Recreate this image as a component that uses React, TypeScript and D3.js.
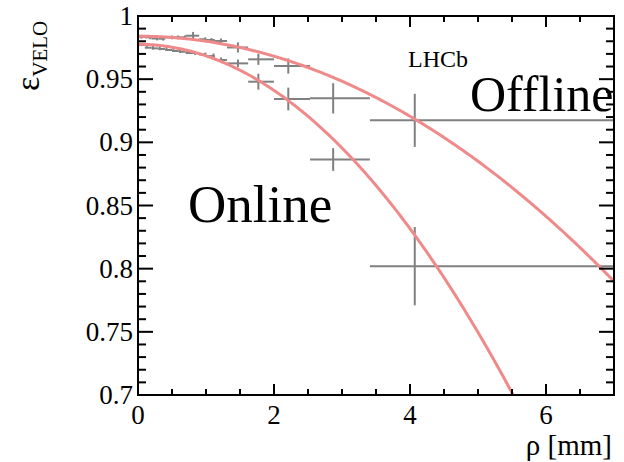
import React from "react";
import * as d3 from "d3";

// VELO efficiency versus radial distance rho, offline and online reconstruction
const rhoOffline = [0.05, 0.18, 0.28, 0.37, 0.5, 0.59, 0.69, 0.81, 0.99, 1.08, 1.22, 1.47, 1.77, 2.21, 2.87, 4.07];
const effOffline = [0.9836, 0.9831, 0.9822, 0.982, 0.9831, 0.9831, 0.9831, 0.9844, 0.9816, 0.981, 0.9802, 0.9751, 0.9657, 0.9604, 0.9348, 0.9174];
const errOffline = [0.0015, 0.0015, 0.0015, 0.0015, 0.0015, 0.0015, 0.0015, 0.003, 0.0015, 0.0015, 0.002, 0.004, 0.0044, 0.006, 0.012, 0.021];

const rhoOnline = [0.13, 0.22, 0.32, 0.42, 0.52, 0.62, 0.72, 0.84, 0.99, 1.11, 1.22, 1.47, 1.77, 2.21, 2.87, 4.07];
const effOnline = [0.977, 0.9749, 0.9744, 0.9739, 0.9731, 0.9723, 0.9717, 0.9707, 0.9695, 0.9683, 0.9652, 0.9625, 0.948, 0.9343, 0.8864, 0.802];
const errOnline = [0.0015, 0.0015, 0.0015, 0.0015, 0.0015, 0.0015, 0.0015, 0.0015, 0.0015, 0.002, 0.002, 0.003, 0.0063, 0.009, 0.009, 0.031];

// bin edges shared by both samples
const binLo = [0.0, 0.1, 0.2, 0.3, 0.4, 0.5, 0.6, 0.7, 0.9, 1.0, 1.13, 1.31, 1.62, 2.0, 2.53, 3.41];
const binHi = [0.1, 0.2, 0.3, 0.4, 0.5, 0.6, 0.7, 0.9, 1.0, 1.13, 1.31, 1.62, 2.0, 2.53, 3.41, 7.5];

// quadratic fits: eff = p0 - p1 * rho^2
const fitOffline = [0.984, 0.00396];
const fitOnline = [0.9776, 0.00912];

const xMajorTicks = [0, 2, 4, 6];
const xTickLabels = ["0", "2", "4", "6"];
const yMajorTicks = [0.7, 0.75, 0.8, 0.85, 0.9, 0.95, 1.0];
const yTickLabels = ["0.7", "0.75", "0.8", "0.85", "0.9", "0.95", "1"];

const W = 624;
const H = 462;
const L = 138, R = 614, T = 16, B = 395;

const x = d3.scaleLinear().domain([0, 7]).range([L, R]);
const y = d3.scaleLinear().domain([0.7, 1.0]).range([B, T]);

const serif = "Liberation Serif";
const gray = "#808080";
const fitColor = "#f08a8a";

function Points({ rho, eff, err }: { rho: number[]; eff: number[]; err: number[] }) {
  return (
    <g stroke={gray} strokeWidth={2} fill="none">
      {rho.map((r, i) => (
        <g key={i}>
          <line x1={x(binLo[i])} x2={x(binHi[i])} y1={y(eff[i])} y2={y(eff[i])} />
          <line x1={x(r)} x2={x(r)} y1={y(eff[i] - err[i])} y2={y(eff[i] + err[i])} />
        </g>
      ))}
    </g>
  );
}

function fitPath(p: number[]) {
  const pts = d3.range(0, 7.0001, 0.02).map((r) => [r, p[0] - p[1] * r * r] as [number, number]);
  return d3
    .line<[number, number]>()
    .x((d) => x(d[0]))
    .y((d) => y(d[1]))(pts) as string;
}

const txt = (size: number): React.CSSProperties => ({ fontFamily: serif, fontSize: size });

export default function App() {
  const xMinor = d3.range(0, 7.0001, 0.5);
  const yMinor = d3.range(0.7, 1.0001, 0.01);
  return (
    <svg
      width={W}
      height={H}
      viewBox={`0 0 ${W} ${H}`}
      style={{ position: "absolute", left: 0, top: 0, background: "#fff" }}
    >
      <defs>
        <clipPath id="frame">
          <rect x={L} y={T} width={R - L} height={B - T} />
        </clipPath>
      </defs>

      <g clipPath="url(#frame)">
        <Points rho={rhoOffline} eff={effOffline} err={errOffline} />
        <Points rho={rhoOnline} eff={effOnline} err={errOnline} />
        <path d={fitPath(fitOffline)} fill="none" stroke={fitColor} strokeWidth={3} />
        <path d={fitPath(fitOnline)} fill="none" stroke={fitColor} strokeWidth={3} />
      </g>

      {/* ticks on all four sides */}
      <g stroke="#000" strokeWidth={2}>
        {xMinor.map((v, i) => {
          const major = xMajorTicks.some((m) => Math.abs(m - v) < 1e-6);
          const len = major ? 11 : 6;
          return (
            <g key={"x" + i}>
              <line x1={x(v)} x2={x(v)} y1={B} y2={B - len} />
              <line x1={x(v)} x2={x(v)} y1={T} y2={T + len} />
            </g>
          );
        })}
        {yMinor.map((v, i) => {
          const major = yMajorTicks.some((m) => Math.abs(m - v) < 1e-6);
          const len = major ? 15 : 8;
          return (
            <g key={"y" + i}>
              <line x1={L} x2={L + len} y1={y(v)} y2={y(v)} />
              <line x1={R} x2={R - len} y1={y(v)} y2={y(v)} />
            </g>
          );
        })}
      </g>

      <rect x={L} y={T} width={R - L} height={B - T} fill="none" stroke="#000" strokeWidth={2} />

      {/* tick labels */}
      {xMajorTicks.map((v, i) => (
        <text key={"xl" + i} x={x(v)} y={424} textAnchor="middle" style={txt(27)}>
          {xTickLabels[i]}
        </text>
      ))}
      {yMajorTicks.map((v, i) => (
        <text key={"yl" + i} x={133} y={y(v) + 9} textAnchor="end" style={txt(27)}>
          {yTickLabels[i]}
        </text>
      ))}

      {/* axis titles */}
      <text x={612} y={455} textAnchor="end" style={txt(29)}>
        ρ [mm]
      </text>
      <text transform="translate(39,91) rotate(-90)" style={{ fontFamily: serif }}>
        <tspan style={{ fontSize: 34 }}>ε</tspan>
        <tspan style={{ fontSize: 21 }} dy={8}>VELO</tspan>
      </text>

      {/* annotations */}
      <text x={408} y={67} style={txt(24)}>
        LHCb
      </text>
      <text x={470} y={111} style={txt(50)}>
        Offline
      </text>
      <text x={188} y={222} style={txt(53)}>
        Online
      </text>
    </svg>
  );
}
